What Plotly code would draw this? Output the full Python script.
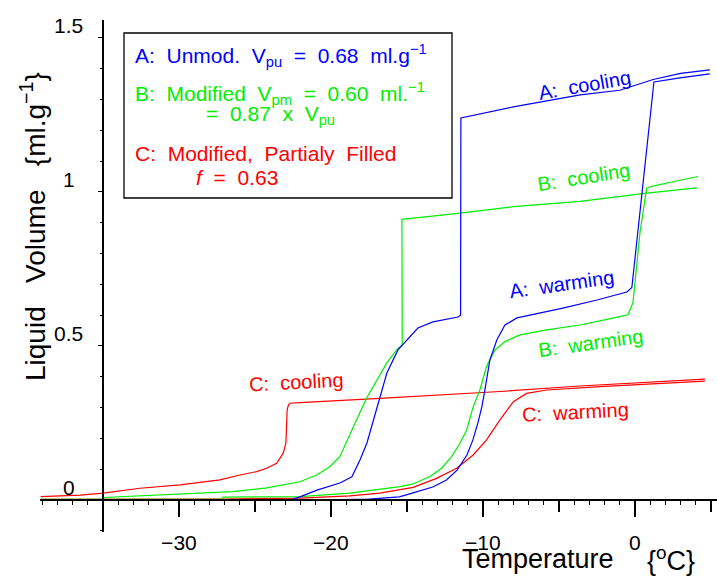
import plotly.graph_objects as go

# ---- data: liquid volume (ml/g) vs temperature (deg C) ----
# A: unmodified, cooling run
a_cool_t = [4.93, 3.0, 1.2, -1.0, -3.6, -8.0, -11.45, -11.47, -11.64, -13.29, -14.28, -15.0,
            -15.59, -16.32, -16.78, -17.24, -17.63, -18.09, -18.62, -19.41, -20.92, -22.04,
            -22.7, -27.1]
a_cool_v = [1.396, 1.385, 1.365, 1.33, 1.315, 1.276, 1.24, 0.60, 0.594, 0.578, 0.558, 0.519,
            0.487, 0.412, 0.334, 0.25, 0.185, 0.13, 0.075, 0.055, 0.032, 0.01, 0.0, 0.0]

# A: unmodified, warming run
a_warm_t = [-27.1, -20.0, -17.5, -16.8, -15.5, -14.6, -13.3, -12.4, -11.7, -11.05, -10.66,
            -10.33, -10.07, -9.87, -9.54, -9.08, -8.55, -7.76, -6.9, -4.74, -2.5, -0.53, -0.2,
            0.3, 0.8, 1.25, 2.96, 4.93]
a_warm_v = [0.0, 0.0, 0.003, 0.006, 0.01, 0.023, 0.042, 0.065, 0.097, 0.146, 0.195, 0.25,
            0.302, 0.357, 0.455, 0.52, 0.568, 0.591, 0.60, 0.623, 0.649, 0.675, 0.69, 0.92,
            1.15, 1.357, 1.37, 1.383]

# B: modified, cooling run
b_cool_t = [4.08, 0.77, -3.62, -8.0, -11.5, -15.33, -15.31, -15.68, -16.33, -16.78, -17.24,
            -17.65, -18.31, -18.97, -19.41, -20.07, -20.94, -22.04, -23.16, -24.23, -26.45,
            -28.62, -35.0]
b_cool_v = [1.013, 0.996, 0.969, 0.952, 0.931, 0.911, 0.503, 0.487, 0.444, 0.406, 0.368,
            0.331, 0.26, 0.185, 0.141, 0.108, 0.081, 0.059, 0.049, 0.039, 0.027, 0.022, 0.008]

# B: modified, warming run
b_warm_t = [-39.1, -27.2, -27.1, -22.04, -18.75, -16.78, -15.46, -14.6, -13.49, -12.72,
            -12.06, -11.51, -11.07, -10.64, -10.2, -9.76, -9.21, -8.55, -7.57, -5.81, -3.62,
            -1.45, -0.46, -0.13, 0.13, 0.33, 0.77, 1.18, 2.5, 4.14]
b_warm_v = [0.002, 0.003, 0.009, 0.011, 0.022, 0.035, 0.043, 0.052, 0.076, 0.103, 0.141,
            0.184, 0.227, 0.303, 0.357, 0.433, 0.487, 0.514, 0.536, 0.552, 0.568, 0.59, 0.601,
            0.64, 0.756, 0.867, 1.012, 1.019, 1.033, 1.05]

# C: modified, partially filled, cooling run
c_cool_t = [4.6, -3.62, -8.88, -10.2, -13.27, -16.78, -22.04, -22.7, -22.8, -22.88, -22.93,
            -22.96, -23.14, -23.57, -24.23, -24.89, -25.99, -27.3, -29.93, -32.57, -34.98,
            -36.5, -39.1]
c_cool_v = [0.392, 0.37, 0.352, 0.348, 0.341, 0.33, 0.316, 0.314, 0.308, 0.292, 0.227, 0.184,
            0.152, 0.119, 0.103, 0.092, 0.081, 0.065, 0.049, 0.038, 0.022, 0.016, 0.011]

# C: modified, partially filled, warming run
c_warm_t = [-39.1, -27.0, -22.04, -18.75, -16.78, -14.59, -13.05, -11.73, -10.64, -9.76,
            -8.88, -8.0, -7.13, -5.81, -2.3, 4.6]
c_warm_v = [0.002, 0.003, 0.006, 0.013, 0.022, 0.041, 0.07, 0.103, 0.146, 0.195, 0.26, 0.319,
            0.346, 0.357, 0.368, 0.386]

x_major = [-30, -20, -10, 0]
x_major_text = ["\u221230", "\u221220", "\u221210", "0"]
x_mid = [-35, -25, -15, -5, 5]
y_major = [0, 0.5, 1, 1.5]
y_major_text = ["0", "0.5", "1", "1.5"]

BLUE = "#0000ff"
GREEN = "#00ee00"
RED = "#ff0000"
FONT = "Liberation Sans, Arial, sans-serif"

W, H = 717, 580
ML, MR, MT, MB = 40, 0, 20, 48
PW, PH = W - ML - MR, H - MT - MB

X_RANGE = [-39.14, 5.40]
Y_RANGE = [-0.104, 1.558]


def px(xp):
    """Figure pixel x -> paper fraction."""
    return (xp - ML) / PW


def py(yp):
    """Figure pixel y -> paper fraction."""
    return (H - MB - yp) / PH


y0_pos = (0 - Y_RANGE[0]) / (Y_RANGE[1] - Y_RANGE[0])
x_axis_pos = (-35 - X_RANGE[0]) / (X_RANGE[1] - X_RANGE[0])

fig = go.Figure()
series = [
    (c_warm_t, c_warm_v, RED, "C warming"),
    (c_cool_t, c_cool_v, RED, "C cooling"),
    (b_warm_t, b_warm_v, GREEN, "B warming"),
    (b_cool_t, b_cool_v, GREEN, "B cooling"),
    (a_warm_t, a_warm_v, BLUE, "A warming"),
    (a_cool_t, a_cool_v, BLUE, "A cooling"),
]
for t, v, col, name in series:
    fig.add_trace(go.Scatter(x=t, y=v, mode="lines", name=name,
                             line=dict(color=col, width=1.2), showlegend=False,
                             hoverinfo="skip"))

# second x axis only carries the longer ticks at multiples of ten
fig.add_trace(go.Scatter(x=[None], y=[None], xaxis="x2", showlegend=False))

fig.update_layout(
    width=W, height=H,
    margin=dict(l=ML, r=MR, t=MT, b=MB),
    paper_bgcolor="white", plot_bgcolor="white",
    font=dict(family=FONT, size=20, color="black"),
    xaxis=dict(
        range=X_RANGE, anchor="free", position=y0_pos,
        showgrid=False, zeroline=False,
        showline=True, linecolor="black", linewidth=2,
        tickmode="array", tickvals=x_mid + x_major,
        ticktext=[""] * len(x_mid) + x_major_text,
        ticks="outside", ticklen=11, tickwidth=1.6, tickcolor="black",
        ticklabelstandoff=13,
        tickfont=dict(family=FONT, size=21, color="black"),
        minor=dict(tickmode="linear", tick0=0, dtick=1, ticks="outside",
                   ticklen=4, tickwidth=1.3, tickcolor="black"),
    ),
    xaxis2=dict(
        range=X_RANGE, overlaying="x", anchor="free", position=y0_pos,
        showgrid=False, zeroline=False, showline=False,
        tickmode="array", tickvals=x_major, showticklabels=False,
        ticks="outside", ticklen=16, tickwidth=2, tickcolor="black",
    ),
    yaxis=dict(
        range=Y_RANGE, anchor="free", position=x_axis_pos,
        showgrid=False, zeroline=False,
        showline=True, linecolor="black", linewidth=2,
        tickmode="array", tickvals=y_major, showticklabels=False,
        ticks="outside", ticklen=4, tickwidth=1.3, tickcolor="black",
        minor=dict(tickmode="linear", tick0=0, dtick=0.1, ticks="outside",
                   ticklen=2, tickwidth=1, tickcolor="black"),
    ),
)

ann = []

# y tick labels, centred in the left margin, raised above their ticks
for val, txt in zip(y_major, y_major_text):
    ann.append(dict(x=px(68.5), xref="paper", y=val, yref="y", text=txt,
                    showarrow=False, xanchor="center", yanchor="middle", yshift=12,
                    font=dict(family=FONT, size=21, color="black")))

# axis titles
ann.append(dict(x=px(33), xref="paper", y=py(227), yref="paper",
                text="Liquid   Volume   {ml.g<sup>\u22121</sup>}", textangle=-90,
                showarrow=False, xanchor="center", yanchor="middle",
                font=dict(family=FONT, size=28, color="black")))
ann.append(dict(x=px(460), xref="paper", y=py(559), yref="paper", text="Temperature",
                showarrow=False, xanchor="left", yanchor="middle",
                font=dict(family=FONT, size=27, color="black")))
ann.append(dict(x=px(645), xref="paper", y=py(559), yref="paper", text="{<sup>o</sup>C}",
                showarrow=False, xanchor="left", yanchor="middle",
                font=dict(family=FONT, size=27, color="black")))

# key box text
key_lines = [
    ("A:  Unmod.  V<sub>pu</sub>  =  0.68  ml.g<sup>\u22121</sup>", BLUE, 133, 55),
    ("B:  Modified  V<sub>pm</sub>  =  0.60  ml.<sup>\u22121</sup>", GREEN, 133, 93),
    ("=  0.87  x  V<sub>pu</sub>", GREEN, 204, 115),
    ("C:  Modified,  Partialy  Filled", RED, 133, 153),
    ("<i>f</i>  =  0.63", RED, 194, 177),
]
for txt, col, xl, yc in key_lines:
    ann.append(dict(x=px(xl), xref="paper", y=py(yc), yref="paper", text=txt,
                    showarrow=False, xanchor="left", yanchor="middle",
                    font=dict(family=FONT, size=21, color=col)))

# curve labels
curve_labels = [
    ("A:  cooling", BLUE, -3.29, 1.347, -10),
    ("B:  cooling", GREEN, -3.36, 1.049, -9),
    ("A:  warming", BLUE, -4.8, 0.701, -8),
    ("B:  warming", GREEN, -2.89, 0.51, -8),
    ("C:  warming", RED, -3.88, 0.286, -3),
    ("C:  cooling", RED, -22.24, 0.383, -3),
]
for txt, col, xv, yv, ang in curve_labels:
    ann.append(dict(x=xv, xref="x", y=yv, yref="y", text=txt, textangle=ang,
                    showarrow=False, xanchor="center", yanchor="middle",
                    font=dict(family=FONT, size=20, color=col)))

fig.update_layout(annotations=ann)

fig.add_shape(type="rect", xref="paper", yref="paper",
              x0=px(124), x1=px(452), y0=py(198), y1=py(33),
              line=dict(color="black", width=1.3), fillcolor="rgba(0,0,0,0)")

fig.write_html("out.html")
